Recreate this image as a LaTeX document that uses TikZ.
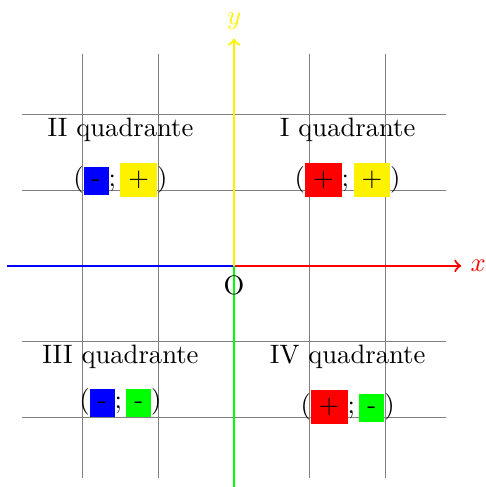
\documentclass[tikz,border=0pt]{standalone}
\newcommand{\mns}{\rule{0pt}{4.31pt}-}
\begin{document}
\begin{tikzpicture}[
  title/.style={inner sep=3.333pt},
  signrow/.style={anchor=base, inner sep=0pt},
  axis/.style={thick},
  gridline/.style={gray, line width=0.4pt}
]
\useasboundingbox (-3.09,-2.92) rectangle (3.326,3.51);
\draw[gridline] (-2.8,-2.8) grid (2.8,2.8);

\node[title] (t1) at (1.5,1.8) {I quadrante};
\node[title] (t2) at (-1.5,1.8) {II quadrante};
\node[title] (t3) at (-1.5,-1.2) {III quadrante};
\node[title] (t4) at (1.5,-1.2) {IV quadrante};

\node[signrow] (s1) at (1.5,1.043) {$(\colorbox{red}{+};\colorbox{yellow}{+})$};
\node[signrow] (s2) at (-1.5,1.043) {$(\colorbox{blue}{\mns};\colorbox{yellow}{+})$};
\node[signrow] (s3) at (-1.5,-1.888) {$(\colorbox{blue}{\mns};\colorbox{green}{\mns})$};
\node[signrow] (s4) at (1.5,-1.954) {$(\colorbox{red}{+};\colorbox{green}{\mns})$};

\coordinate (O) at (0,0);
\coordinate (xneg) at (-3,0);
\coordinate (xpos) at (3,0);
\coordinate (ypos) at (0,3);
\coordinate (yneg) at (0,-2.93);

\draw[axis, blue] (xneg) -- (O);
\draw[axis, red, ->] (O) -- (xpos);
\draw[axis, yellow, ->] (O) -- (ypos);
\draw[axis, green] (O) -- (yneg);

\node[red, right] (xl) at (xpos) {$x$};
\node[yellow, above] (yl) at (ypos) {$y$};
\node[below] (ol) at (O) {O};
\end{tikzpicture}
\end{document}
